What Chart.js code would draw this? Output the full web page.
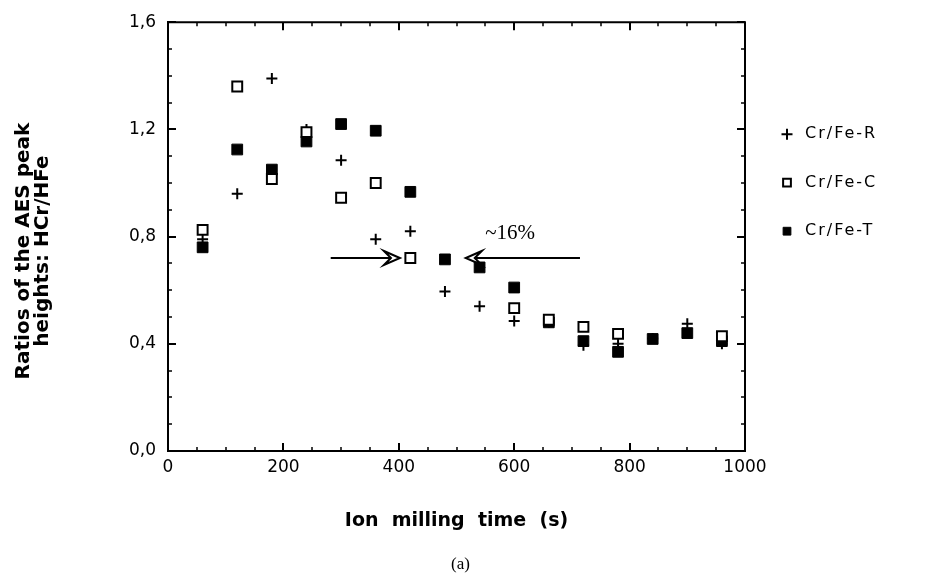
<!DOCTYPE html>
<html><head><meta charset="utf-8">
<script src="https://cdn.jsdelivr.net/npm/chart.js@4.4.0/dist/chart.umd.min.js"></script>
<style>html,body{margin:0;padding:0;background:#fff;} #wrap{width:928px;height:578px;position:relative;}</style>
</head><body><div id="wrap"><canvas id="c" width="928" height="578"></canvas></div>
<script>
// ---- data ----
const times = [60,120,180,240,300,360,420,480,540,600,660,720,780,840,900,960];
const crFeR = [0.79,0.96,1.39,1.20,1.085,0.79,0.82,0.595,0.54,0.485,0.48,0.395,0.40,0.42,0.475,0.40];
const crFeC = [0.825,1.36,1.015,1.19,0.945,1.0,0.72,null,null,0.533,0.49,0.463,0.437,null,null,0.428];
const crFeT = [0.76,1.125,1.05,1.155,1.22,1.195,0.967,0.715,0.685,0.61,0.48,0.41,0.37,0.418,0.44,0.41];
const seriesNames = ['Cr/Fe-R','Cr/Fe-C','Cr/Fe-T'];
const xTickStep = 200, xMinorStep = 50;
const yTickStep = 0.4, yMinorStep = 0.1;
const yTitleLines = ['Ratios of the AES peak', 'heights: HCr/HFe'];
const xTitle = 'Ion  milling  time  (s)';
const arrowLevel = 0.72;
const leftArrowFromTo = [282, 402];
const rightArrowFromTo = [714, 516];
const annotationText = '~16%';
const annotationPos = [593, 0.81];
const captionText = '(a)';

function toPts(vals){ const out=[]; vals.forEach((v,i)=>{ if(v!==null) out.push({x:times[i],y:v}); }); return out; }
const fmtY = v => v.toFixed(1).replace('.', ',');

const styles = [
  {pointStyle:'cross', radius:5.5, backgroundColor:'#000', borderColor:'#000', borderWidth:2},
  {pointStyle:'rect', radius:7, backgroundColor:'#fff', borderColor:'#000', borderWidth:2},
  {pointStyle:'rect', radius:7.6, backgroundColor:'#000', borderColor:'#000', borderWidth:1}
];
const seriesVals = [crFeR, crFeC, crFeT];
const drawOrder = [3, 1, 2];

const decor = {
  id:'decor',
  afterDraw(chart){
    const {ctx, chartArea:a, scales:{x, y}} = chart;
    ctx.save();
    ctx.strokeStyle = '#000';
    ctx.lineWidth = 2;
    ctx.beginPath();
    ctx.moveTo(a.left, a.top); ctx.lineTo(a.right, a.top); ctx.lineTo(a.right, a.bottom);
    ctx.stroke();
    for (let v = 0; v <= 1000 + 1e-6; v += xMinorStep) {
      const px = Math.round(x.getPixelForValue(v));
      const major = Math.abs(v % xTickStep) < 1e-6;
      const L = major ? 8 : 4;
      ctx.lineWidth = major ? 2 : 1.5;
      ctx.beginPath();
      ctx.moveTo(px, a.bottom); ctx.lineTo(px, a.bottom - L);
      ctx.moveTo(px, a.top); ctx.lineTo(px, a.top + L);
      ctx.stroke();
    }
    for (let k = 0; k <= 16; k++) {
      const v = k * yMinorStep;
      const py = Math.round(y.getPixelForValue(v));
      const major = k % 4 === 0;
      const L = major ? 8 : 4;
      ctx.lineWidth = major ? 2 : 1.5;
      ctx.beginPath();
      ctx.moveTo(a.left, py); ctx.lineTo(a.left + L, py);
      ctx.moveTo(a.right, py); ctx.lineTo(a.right - L, py);
      ctx.stroke();
    }
    const ay = y.getPixelForValue(arrowLevel);
    function arrow(x0, x1){
      const p0 = x.getPixelForValue(x0), p1 = x.getPixelForValue(x1);
      const d = p1 > p0 ? 1 : -1;
      ctx.lineWidth = 2;
      ctx.beginPath(); ctx.moveTo(p0, ay); ctx.lineTo(p1 - d*10, ay); ctx.stroke();
      ctx.beginPath();
      ctx.moveTo(p1 - d*16, ay - 7); ctx.lineTo(p1, ay); ctx.lineTo(p1 - d*16, ay + 7); ctx.lineTo(p1 - d*9, ay);
      ctx.closePath(); ctx.stroke();
    }
    arrow(leftArrowFromTo[0], leftArrowFromTo[1]);
    arrow(rightArrowFromTo[0], rightArrowFromTo[1]);
    ctx.fillStyle = '#000';
    ctx.font = '21px "Liberation Serif"';
    ctx.textAlign = 'center'; ctx.textBaseline = 'middle';
    ctx.fillText(annotationText, x.getPixelForValue(annotationPos[0]), y.getPixelForValue(annotationPos[1]));
    ctx.font = '17px "Liberation Serif"';
    ctx.fillText(captionText, (a.left + a.right)/2 + 4, 565);
    // y title
    ctx.save();
    ctx.font = 'bold 20px "DejaVu Sans"';
    ctx.translate(0, 251);
    ctx.rotate(-Math.PI/2);
    ctx.fillText(yTitleLines[0], 0, 24);
    ctx.fillText(yTitleLines[1], 0, 43);
    ctx.restore();
    // legend
    ctx.font = '16px "DejaVu Sans"';
    ctx.textAlign = 'left';
    try { ctx.letterSpacing = '2px'; } catch(e) {}
    seriesNames.forEach((n, i) => {
      const ly = a.top + 112 + i * 48.5;
      const st = Object.assign({}, styles[i]);
      if (i > 0) st.radius = 5.5;
      ctx.fillStyle = st.backgroundColor; ctx.strokeStyle = st.borderColor; ctx.lineWidth = st.borderWidth;
      Chart.helpers.drawPoint(ctx, st, a.right + 42, ly);
      ctx.fillStyle = '#000';
      ctx.fillText(n, a.right + 60, ly);
    });
    ctx.restore();
  }
};

new Chart(document.getElementById('c'), {
  type: 'scatter',
  data: {
    datasets: seriesNames.map((n, i) => ({
      label: n,
      data: toPts(seriesVals[i]),
      order: drawOrder[i],
      pointStyle: styles[i].pointStyle,
      pointRadius: styles[i].radius,
      pointBackgroundColor: styles[i].backgroundColor,
      pointBorderColor: styles[i].borderColor,
      pointBorderWidth: styles[i].borderWidth,
      showLine: false
    }))
  },
  options: {
    responsive: false,
    animation: false,
    layout: {padding: {left: 0, right: 183, top: 19, bottom: 0}},
    plugins: {legend: {display: false}, tooltip: {enabled: false}},
    scales: {
      x: {
        type: 'linear', min: 0, max: 1000,
        ticks: {stepSize: xTickStep, color: '#000', padding: 6, font: {family: 'DejaVu Sans', size: 17},
                callback: v => String(v)},
        grid: {drawOnChartArea: false, drawTicks: false},
        border: {display: true, color: '#000', width: 2},
        title: {display: true, text: xTitle, color: '#000',
                font: {family: 'DejaVu Sans', size: 19, weight: 'bold'}, padding: {top: 0, bottom: 46}},
        afterFit: s => { s.height = 127; }
      },
      y: {
        type: 'linear', min: 0, max: 1.6,
        ticks: {stepSize: yTickStep, color: '#000', padding: 12, font: {family: 'DejaVu Sans', size: 17},
                callback: v => fmtY(v)},
        grid: {drawOnChartArea: false, drawTicks: false},
        border: {display: true, color: '#000', width: 2},
        title: {display: false},
        afterFit: s => { s.width = 168; }
      }
    }
  },
  plugins: [decor]
});
</script></body></html>
